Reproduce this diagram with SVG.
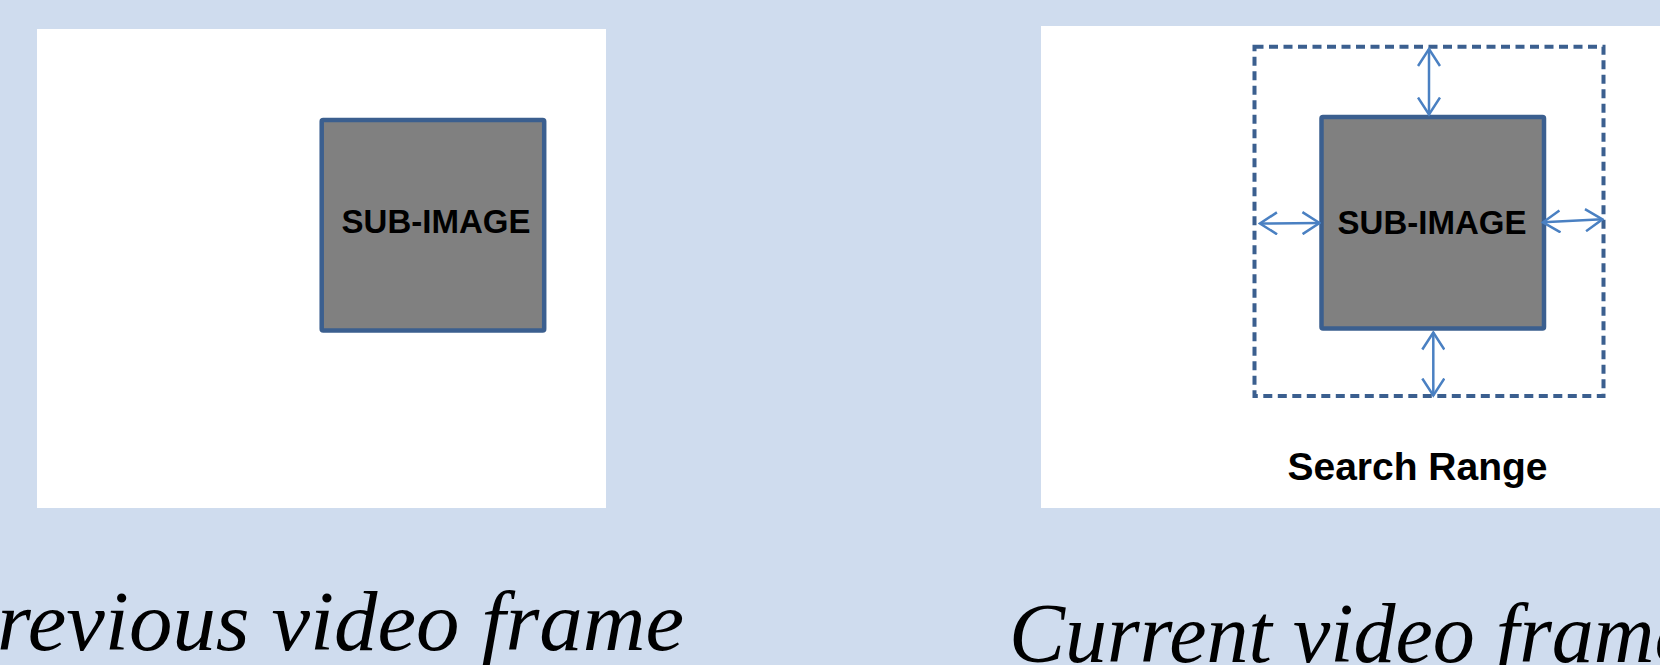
<svg xmlns="http://www.w3.org/2000/svg" width="1660" height="665" viewBox="0 0 1660 665">
<defs>
<style>
.frame{fill:#ffffff}
.sub{fill:#808080;stroke:#3b5f8f;stroke-width:4.5}
.range{fill:none;stroke:#3b5f8f;stroke-width:4;stroke-dasharray:9 5.5}
.lbl{font-family:"Liberation Sans",Arial,sans-serif;font-weight:bold;fill:#000;text-anchor:middle}
.cap{font-family:"Liberation Serif","Times New Roman",serif;font-style:italic;font-size:84px;fill:#000}
.arr{stroke:#4a80c2;stroke-width:2.5;fill:none;marker-start:url(#ah);marker-end:url(#ah)}
</style>
<marker id="ah" viewBox="0 0 20 24" refX="18" refY="12" markerWidth="20" markerHeight="24" markerUnits="userSpaceOnUse" orient="auto-start-reverse">
<path d="M1,1 L18,12 L1,23" fill="none" stroke="#4a80c2" stroke-width="2.5"/>
</marker>
</defs>
<rect width="1660" height="665" fill="#cfdcee"/>
<g id="prev-frame">
<rect class="frame" x="37" y="29" width="569" height="479"/>
<g id="prev-sub">
<rect class="sub" x="321.7" y="120" width="222.5" height="210.5" rx="1.5"/>
<text class="lbl" x="436" y="233" font-size="33">SUB-IMAGE</text>
</g>
<text class="cap" x="-56" y="650" textLength="740" lengthAdjust="spacingAndGlyphs">Previous video frame</text>
</g>
<g id="cur-frame">
<rect class="frame" x="1041" y="26" width="619" height="482"/>
<g id="search-range">
<rect class="range" x="1254.5" y="46.7" width="349" height="349.3"/>
<text class="lbl" x="1417.5" y="480" font-size="39">Search Range</text>
</g>
<g id="cur-sub">
<rect class="sub" x="1321.5" y="117" width="222.5" height="211.5" rx="1.5"/>
<text class="lbl" x="1432" y="234" font-size="33">SUB-IMAGE</text>
</g>
<text class="cap" x="1009" y="662">Current video frame</text>
</g>
<g id="connectors">
<line class="arr" x1="1429" y1="49" x2="1429" y2="114.5"/>
<line class="arr" x1="1433.3" y1="332.5" x2="1433.3" y2="395.5"/>
<line class="arr" x1="1260" y1="223.5" x2="1319.5" y2="223"/>
<line class="arr" x1="1543" y1="222.3" x2="1602.5" y2="219.3"/>
</g>
</svg>
